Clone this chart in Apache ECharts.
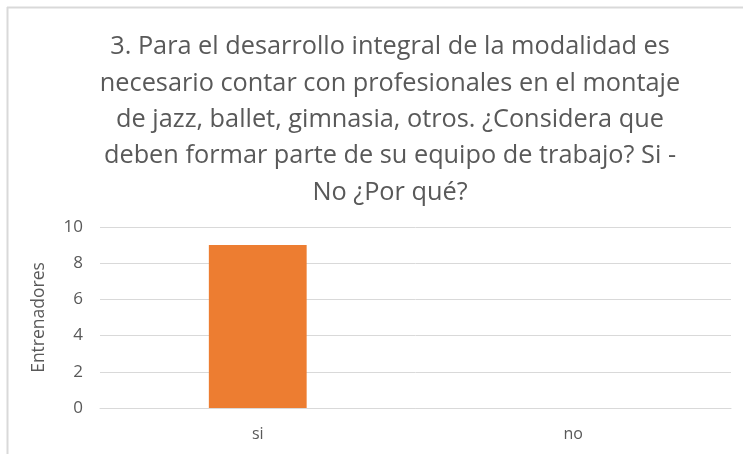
<!DOCTYPE html>
<html>
<head>
<meta charset="utf-8">
<script src="https://cdn.jsdelivr.net/npm/echarts@6/dist/echarts.min.js"></script>
<style>
  html, body { margin: 0; padding: 0; background: #fff; }
  #chart { width: 743px; height: 454px; }
</style>
</head>
<body>
<div id="chart"></div>
<script>
const titleText = '3. Para el desarrollo integral de la modalidad es\nnecesario contar con profesionales en el montaje\nde jazz, ballet, gimnasia, otros. ¿Considera que\ndeben formar parte de su equipo de trabajo? Si -\nNo ¿Por qué?';
const categories = ['si', 'no'];
const values = [9, 0];
const yTicks = { min: 0, max: 10, interval: 2 };

const chart = echarts.init(document.getElementById('chart'));
chart.setOption({
    animation: false,
    textStyle: { fontFamily: 'Open Sans' },
    title: {
        text: titleText,
        left: 385,
        textAlign: 'center',
        top: 24,
        textStyle: {
            fontFamily: 'Open Sans',
            fontWeight: 'normal',
            fontSize: 25.3,
            lineHeight: 36.3,
            color: '#595959'
        }
    },
    graphic: [
        { type: 'line', shape: { x1: 7, y1: 7.5, x2: 743, y2: 7.5 }, style: { stroke: '#d9d9d9', lineWidth: 2 } },
        { type: 'line', shape: { x1: 7.5, y1: 7, x2: 7.5, y2: 454 }, style: { stroke: '#d9d9d9', lineWidth: 2 } }
    ],
    grid: { left: 100, right: 12, top: 227, bottom: 46 },
    xAxis: {
        type: 'category',
        data: categories,
        axisLine: { lineStyle: { color: '#d9d9d9' } },
        axisTick: { show: false },
        axisLabel: { color: '#595959', fontSize: 16, margin: 18 }
    },
    yAxis: {
        type: 'value',
        min: yTicks.min,
        max: yTicks.max,
        interval: yTicks.interval,
        name: 'Entrenadores',
        nameLocation: 'middle',
        nameGap: 52,
        nameTextStyle: { color: '#595959', fontSize: 17.5 },
        axisLabel: { color: '#595959', fontSize: 17, margin: 17 },
        splitLine: { lineStyle: { color: '#d9d9d9' } }
    },
    series: [
        {
            type: 'bar',
            data: values,
            barWidth: '31%',
            itemStyle: { color: '#ED7D31' }
        }
    ]
});
</script>
</body>
</html>
